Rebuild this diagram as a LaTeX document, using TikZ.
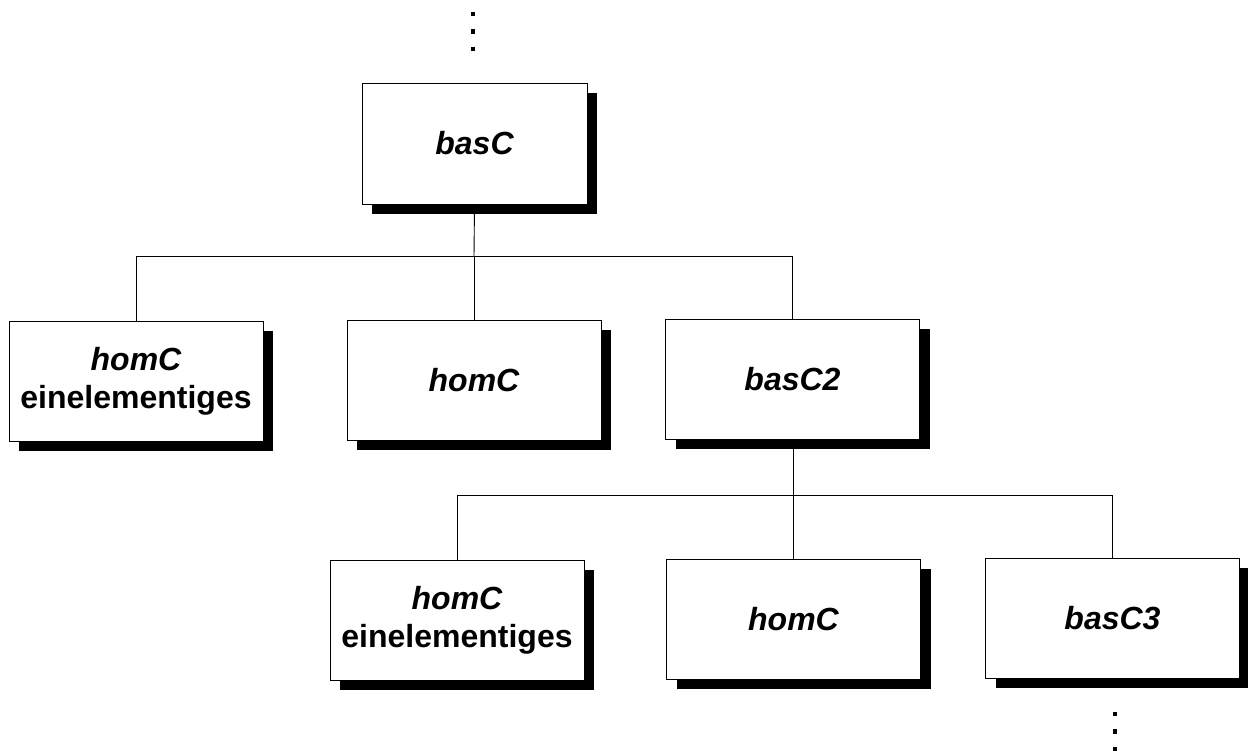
\documentclass[tikz,border=0pt]{standalone}
\usepackage{fontspec}
\setmainfont{Liberation Sans}
\usetikzlibrary{shadows}
\begin{document}
\begin{tikzpicture}[x=1pt,y=-1pt,
  box/.style={draw=black, line width=0.9pt, fill=white, minimum width=254pt, minimum height=120pt,
    inner sep=0pt, align=center, font=\fontsize{32}{38}\selectfont\bfseries,
    drop shadow={shadow xshift=10pt, shadow yshift=-10pt, fill=black, opacity=1}},
  conn/.style={draw=black, line width=0.9pt},
  dotsq/.style={rectangle, fill=black, minimum size=4.5pt, inner sep=0pt}]
\useasboundingbox (0,0) rectangle (1248,753);
% top dots
\node[dotsq] (t1) at (473,14) {};
\node[dotsq] (t2) at (473,31.5) {};
\node[dotsq] (t3) at (473,49) {};
% nodes
\node[box, minimum width=225pt, minimum height=121pt] (basC) at (474.5,143.5) {\itshape basC};
\node[box] (r1a) at (136,381) {\itshape homC\\einelementiges};
\node[box] (r1b) at (474,380) {\itshape homC};
\node[box] (r1c) at (792.5,379) {\itshape basC2};
\node[box] (r2a) at (457,620) {\itshape homC\\einelementiges};
\node[box] (r2b) at (793.5,619) {\itshape homC};
\node[box] (r2c) at (1112.5,618) {\itshape basC3};
% bottom dots
\node[dotsq] (d1) at (1115,714) {};
\node[dotsq] (d2) at (1115,731.5) {};
\node[dotsq] (d3) at (1115,749) {};
% connectors
\coordinate (bus1) at (474,256.5);
\coordinate (bus2) at (793.5,495);
\draw[conn] (basC.south) -- (bus1);
\draw[conn] (bus1) -| (r1a.north);
\draw[conn] (bus1) -- (r1b.north);
\draw[conn] (bus1) -| (r1c.north);
\draw[conn] (r1c.south -| bus2) -- (bus2);
\draw[conn] (bus2) -| (r2a.north);
\draw[conn] (bus2) -- (r2b.north);
\draw[conn] (bus2) -| (r2c.north);
\end{tikzpicture}
\end{document}
